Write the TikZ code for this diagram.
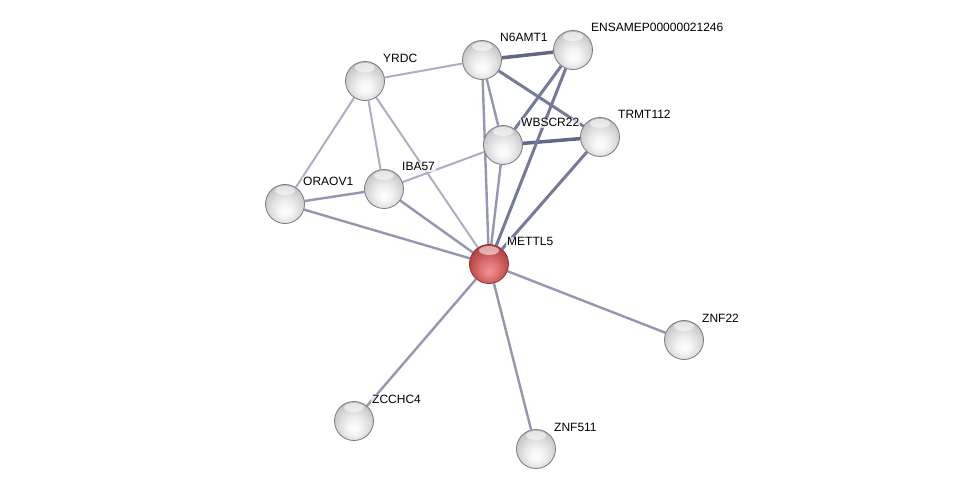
\documentclass[tikz,border=0pt]{standalone}
\usepackage{fontspec}
\setmainfont{Liberation Sans}
\usetikzlibrary{calc,backgrounds}

\definecolor{redinner}{RGB}{240,150,150}
\definecolor{redmid}{RGB}{226,118,118}
\definecolor{redrim}{RGB}{200,88,88}
\definecolor{reddeep}{RGB}{178,66,66}
\definecolor{rededge}{RGB}{150,45,45}

% sphere shadings for the protein nodes (rim of the circle = 25bp)
\pgfdeclareradialshading{greysphere}{\pgfpoint{0bp}{-10bp}}{%
  color(0bp)=(white); color(10bp)=(white!95!black); color(20bp)=(white!86!black);
  color(28bp)=(white!77!black); color(35bp)=(white!68!black); color(50bp)=(white!60!black)}
\pgfdeclareradialshading{redsphere}{\pgfpoint{0bp}{-10bp}}{%
  color(0bp)=(redinner); color(10bp)=(redmid); color(20bp)=(redrim);
  color(28bp)=(reddeep); color(35bp)=(rededge); color(50bp)=(rededge)}

\definecolor{edgestrong}{RGB}{98,103,138}
\definecolor{edgedark}{RGB}{118,122,154}
\definecolor{edgemid}{RGB}{148,151,178}
\definecolor{edgeweak}{RGB}{172,174,196}

\tikzset{
  protein/.style={circle, minimum size=39pt, inner sep=0pt, draw=white!48!black, line width=0.8pt,
    shading=greysphere,
    path picture={\fill[white, opacity=0.55] ($(path picture bounding box.north)+(0pt,-6pt)$) ellipse (10pt and 4.5pt);}},
  query/.style={protein, shading=redsphere, draw=rededge},
  lbl/.style={anchor=base west, inner sep=1pt, fill=white, fill opacity=0.7, text opacity=1,
    font=\fontsize{12}{14}\selectfont},
  strong/.style={edgestrong, line width=3.5pt},
  dark/.style={edgedark, line width=3pt},
  mid/.style={edgemid, line width=2.4pt},
  weak/.style={edgeweak, line width=2pt}
}

\begin{document}
\begin{tikzpicture}[x=1pt,y=-1pt,line cap=round]

  \useasboundingbox (0,0) rectangle (976,494);

  % 1. proteins
  \node[protein] (n6amt1)  at (482, 60)  {};
  \node[protein] (ensamep) at (573, 50)  {};
  \node[protein] (yrdc)    at (365, 81)  {};
  \node[protein] (wbscr22) at (503, 145) {};
  \node[protein] (trmt112) at (600, 137) {};
  \node[protein] (iba57)   at (384, 189) {};
  \node[protein] (oraov1)  at (285, 204) {};
  \node[query]   (mettl5)  at (489, 264) {};
  \node[protein] (znf22)   at (684, 340) {};
  \node[protein] (zcchc4)  at (354, 421) {};
  \node[protein] (znf511)  at (536, 449) {};

  % 2. interactions, behind the proteins
  \begin{scope}[on background layer]
    \foreach \a/\b in {n6amt1/ensamep, wbscr22/trmt112}
      \draw[strong] (\a) -- (\b);
    \foreach \a/\b in {n6amt1/trmt112, ensamep/wbscr22, ensamep/mettl5, trmt112/mettl5}
      \draw[dark] (\a) -- (\b);
    \foreach \a/\b in {n6amt1/mettl5, n6amt1/wbscr22, wbscr22/mettl5,
                       mettl5/znf22, mettl5/zcchc4, mettl5/znf511,
                       oraov1/mettl5, iba57/mettl5, oraov1/iba57}
      \draw[mid] (\a) -- (\b);
    \foreach \a/\b in {yrdc/n6amt1, yrdc/oraov1, yrdc/iba57, yrdc/mettl5, iba57/wbscr22}
      \draw[weak] (\a) -- (\b);
  \end{scope}

  % 3. names
  \foreach \n/\t in {n6amt1/N6AMT1, ensamep/ENSAMEP00000021246, yrdc/YRDC, wbscr22/WBSCR22,
                     trmt112/TRMT112, iba57/IBA57, oraov1/ORAOV1, mettl5/METTL5,
                     znf22/ZNF22, zcchc4/ZCCHC4, znf511/ZNF511}
    \node[lbl] (\n-name) at ($(\n)+(17,-18)$) {\t};

\end{tikzpicture}
\end{document}
